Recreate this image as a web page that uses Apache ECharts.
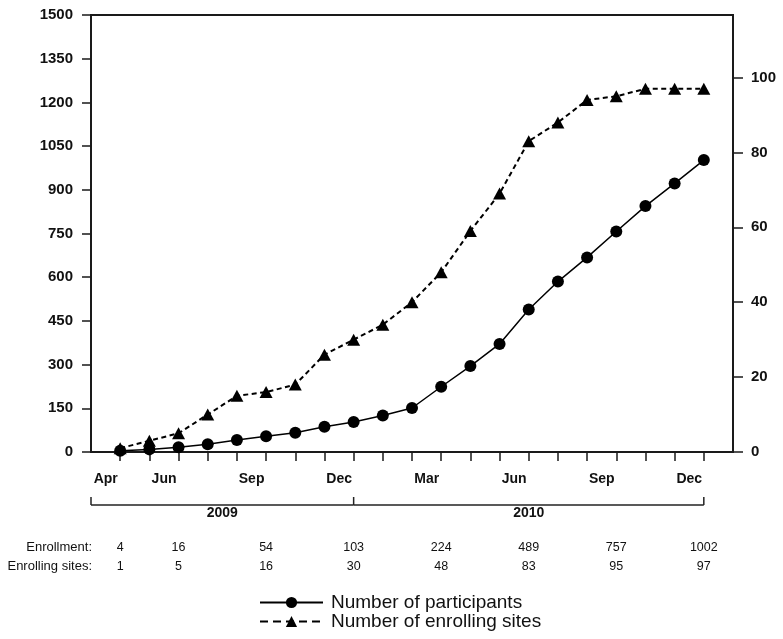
<!DOCTYPE html>
<html>
<head>
<meta charset="utf-8">
<script src="https://cdn.jsdelivr.net/npm/echarts@6/dist/echarts.min.js"></script>
<style>
  html, body { margin: 0; padding: 0; background: #fff; }
  #chart { width: 783px; height: 639px; }
</style>
</head>
<body>
<div id="chart"></div>
<script>
// Monthly enrollment, April 2009 – December 2010
const months = [
  'Apr 2009', 'May 2009', 'Jun 2009', 'Jul 2009', 'Aug 2009', 'Sep 2009', 'Oct 2009',
  'Nov 2009', 'Dec 2009', 'Jan 2010', 'Feb 2010', 'Mar 2010', 'Apr 2010', 'May 2010',
  'Jun 2010', 'Jul 2010', 'Aug 2010', 'Sep 2010', 'Oct 2010', 'Nov 2010', 'Dec 2010'
];
// Empty months either side so the first and last points sit one step in from the axes
const axisMonths = ['Mar 2009', ...months, 'Jan 2011'];

const participants = [4, 9, 16, 27, 41, 54, 66, 87, 103, 125, 151, 224, 295, 371, 489, 585, 668, 757, 844, 922, 1002];
const sites = [1, 3, 5, 10, 15, 16, 18, 26, 30, 34, 40, 48, 59, 69, 83, 88, 94, 95, 97, 97, 97];

// Months that get a label and a column in the summary table
const labelledMonths = ['Apr 2009', 'Jun 2009', 'Sep 2009', 'Dec 2009', 'Mar 2010', 'Jun 2010', 'Sep 2010', 'Dec 2010'];

const leftTicks = { min: 0, max: 1500, step: 150 };
const rightTickValues = [0, 20, 40, 60, 80, 100];
const rightMax = 116.7;

const years = [
  { name: '2009', from: 'Mar 2009', to: 'Dec 2009' },
  { name: '2010', from: 'Dec 2009', to: 'Dec 2010' }
];

const FONT = 'Liberation Sans, Arial, Helvetica, sans-serif';
const INK = '#1a1a1a';

const chart = echarts.init(document.getElementById('chart'), null, { renderer: 'canvas' });

const isLabelled = (i, v) => labelledMonths.indexOf(v) >= 0;
const tableAxis = (offset, values) => ({
  type: 'category',
  data: axisMonths,
  boundaryGap: false,
  position: 'bottom',
  offset: offset,
  axisLine: { show: false },
  axisTick: { show: false },
  axisLabel: {
    interval: isLabelled,
    formatter: v => String(values[months.indexOf(v)]),
    fontFamily: FONT,
    fontSize: 12.5,
    color: '#111',
    margin: 0
  }
});

chart.setOption({
  animation: false,
  backgroundColor: '#fff',
  grid: {
    left: 91, right: 50, top: 15, bottom: 187,
    show: true, borderColor: INK, borderWidth: 2
  },
  xAxis: [
    {
      type: 'category',
      data: axisMonths,
      boundaryGap: false,
      axisLine: { lineStyle: { color: INK, width: 2 } },
      axisTick: {
        interval: (i) => i > 0 && i < axisMonths.length - 1,
        length: 9,
        lineStyle: { color: INK, width: 1.5 }
      },
      axisLabel: {
        interval: isLabelled,
        formatter: v => v.split(' ')[0],
        fontFamily: FONT,
        fontWeight: 'bold',
        fontSize: 14,
        color: '#111',
        margin: 20,
        align: 'center',
        padding: [0, 29, 0, 0]
      },
      splitLine: { show: false }
    },
    tableAxis(89, participants),
    tableAxis(108, sites)
  ],
  yAxis: [
    {
      type: 'value',
      position: 'left',
      min: leftTicks.min, max: leftTicks.max, interval: leftTicks.step,
      axisLine: { show: true, lineStyle: { color: INK, width: 2 } },
      axisTick: { show: true, length: 9, lineStyle: { color: INK, width: 1.5 } },
      axisLabel: {
        formatter: v => String(v),
        fontFamily: FONT, fontWeight: 'bold', fontSize: 15, color: '#111', margin: 18
      },
      splitLine: { show: false }
    },
    {
      type: 'value',
      position: 'right',
      min: 0, max: rightMax,
      axisLine: { show: true, lineStyle: { color: INK, width: 2 } },
      axisTick: { show: true, length: 10, customValues: rightTickValues, lineStyle: { color: INK, width: 1.5 } },
      axisLabel: {
        customValues: rightTickValues,
        formatter: v => String(v),
        fontFamily: FONT, fontWeight: 'bold', fontSize: 15, color: '#111', margin: 18
      },
      splitLine: { show: false }
    }
  ],
  legend: {
    orient: 'vertical',
    left: 259,
    top: 593,
    height: 46,
    padding: 0,
    itemWidth: 63,
    itemHeight: 14,
    itemGap: 0,
    textStyle: {
      fontFamily: FONT, fontSize: 19, color: '#111', lineHeight: 19,
      padding: [0, 0, 0, 3]
    },
    data: [
      { name: 'Number of participants' },
      { name: 'Number of enrolling sites', lineStyle: { type: [8, 5], width: 2 } }
    ]
  },
  series: [
    {
      name: 'Number of participants',
      type: 'line',
      xAxisIndex: 0,
      yAxisIndex: 0,
      symbol: 'circle',
      symbolSize: 12,
      lineStyle: { color: '#000', width: 1.5 },
      itemStyle: { color: '#000' },
      data: months.map((m, i) => [m, participants[i]])
    },
    {
      name: 'Number of enrolling sites',
      type: 'line',
      xAxisIndex: 0,
      yAxisIndex: 1,
      symbol: 'triangle',
      symbolSize: [13, 12],
      lineStyle: { color: '#000', width: 2, type: [5, 3.5] },
      itemStyle: { color: '#000' },
      data: months.map((m, i) => [m, sites[i]])
    }
  ]
});

// Year brackets, year captions and table row titles below the month axis
const px = name => chart.convertToPixel({ xAxisIndex: 0 }, name);
const bracketY = 505;
const bracketRise = 8;
const graphics = [];
const bracketXs = new Set();
years.forEach(y => {
  const x0 = px(y.from), x1 = px(y.to);
  bracketXs.add(x0); bracketXs.add(x1);
  graphics.push({
    type: 'line',
    shape: { x1: x0, y1: bracketY, x2: x1, y2: bracketY },
    style: { stroke: '#222', lineWidth: 1.5 }
  });
  graphics.push({
    type: 'text',
    x: (x0 + x1) / 2, y: 513,
    style: {
      text: y.name, fontFamily: FONT, fontWeight: 'bold', fontSize: 14,
      fill: '#111', align: 'center', verticalAlign: 'middle'
    }
  });
});
bracketXs.forEach(x => {
  graphics.push({
    type: 'line',
    shape: { x1: x, y1: bracketY, x2: x, y2: bracketY - bracketRise },
    style: { stroke: '#222', lineWidth: 1.5 }
  });
});
[['Enrollment:', 547], ['Enrolling sites:', 566]].forEach(([t, y]) => {
  graphics.push({
    type: 'text',
    x: 92, y: y,
    style: {
      text: t, fontFamily: FONT, fontSize: 13, fill: '#111',
      align: 'right', verticalAlign: 'middle'
    }
  });
});
chart.setOption({ graphic: graphics });
</script>
</body>
</html>
